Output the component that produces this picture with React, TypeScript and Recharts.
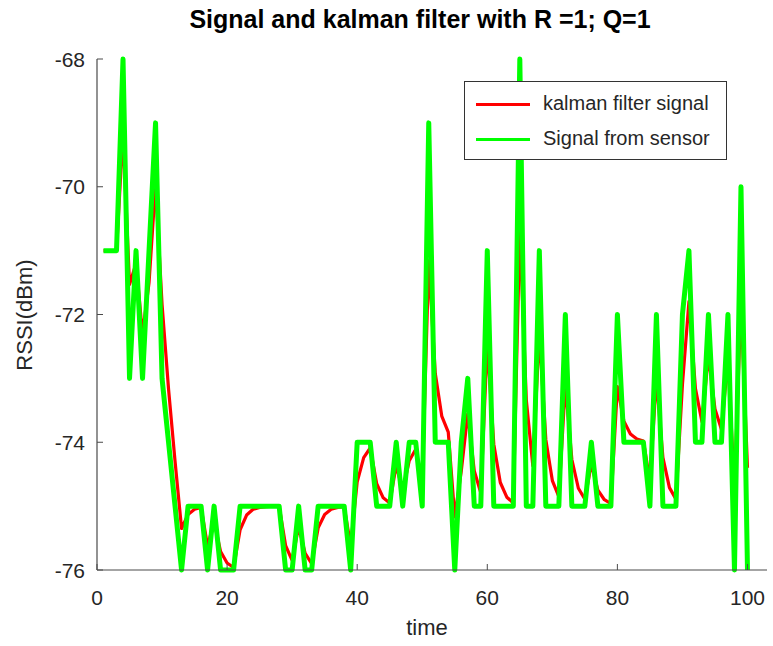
import React from 'react';
import { LineChart, Line, XAxis, YAxis } from 'recharts';

// time samples 1..100
const time: number[] = Array.from({ length: 100 }, (_, i) => i + 1);

// Signal from sensor (RSSI, dBm)
const sensorSignal: number[] = [
  -71, -71, -71, -68, -73, -71, -73, -71, -69, -73,
  -74, -75, -76, -75, -75, -75, -76, -75, -76, -76,
  -76, -75, -75, -75, -75, -75, -75, -75, -76, -76,
  -75, -76, -76, -75, -75, -75, -75, -75, -76, -74,
  -74, -74, -75, -75, -75, -74, -75, -74, -74, -75,
  -69, -74, -74, -74, -76, -74, -73, -75, -75, -71,
  -75, -75, -75, -75, -68, -75, -75, -71, -75, -75,
  -75, -72, -75, -75, -75, -74, -75, -75, -75, -72,
  -74, -74, -74, -74, -75, -72, -75, -75, -75, -72,
  -71, -74, -74, -72, -74, -74, -72, -76, -70, -76,
];

// kalman filter signal (RSSI, dBm)
const kalmanSignal: number[] = [
  -71.0, -71.0, -71.0, -69.15, -71.53, -71.2, -72.31, -71.5, -69.96, -71.84,
  -73.17, -74.3, -75.35, -75.13, -75.05, -75.02, -75.63, -75.24, -75.71, -75.89,
  -75.96, -75.37, -75.14, -75.05, -75.02, -75.01, -75.0, -75.0, -75.62, -75.85,
  -75.32, -75.74, -75.9, -75.34, -75.13, -75.05, -75.02, -75.01, -75.62, -74.62,
  -74.24, -74.09, -74.65, -74.87, -74.95, -74.36, -74.76, -74.29, -74.11, -74.66,
  -71.16, -72.92, -73.59, -73.84, -75.17, -74.45, -73.55, -74.45, -74.79, -72.45,
  -74.03, -74.63, -74.86, -74.95, -70.65, -73.34, -74.37, -72.29, -73.96, -74.6,
  -74.85, -73.09, -74.27, -74.72, -74.89, -74.34, -74.75, -74.9, -74.96, -73.13,
  -73.67, -73.87, -73.95, -73.98, -74.61, -73.0, -74.24, -74.71, -74.89, -73.1,
  -71.8, -73.16, -73.68, -72.64, -73.48, -73.8, -72.69, -74.74, -71.81, -74.4,
];

const xTicks: number[] = [0, 20, 40, 60, 80, 100];
const yTicks: number[] = [-76, -74, -72, -70, -68];

const seriesNames = { kalman: 'kalman filter signal', sensor: 'Signal from sensor' };
const titleText = 'Signal and kalman filter with R =1; Q=1';
const xLabelText = 'time';
const yLabelText = 'RSSI(dBm)';

const data = time.map((t, i) => ({ time: t, kalman: kalmanSignal[i], sensor: sensorSignal[i] }));

const FONT = '"Liberation Sans", Arial, Helvetica, sans-serif';
const AXIS = '#4a4a4a';
const TEXT = '#262626';
const RED = '#ff0000';
const GREEN = '#00ff00';

const XTick = (props: any) => {
  const { x, y, payload } = props;
  return (
    <g>
      <line x1={x} y1={y} x2={x} y2={y - 6} stroke={AXIS} strokeWidth={1} />
      <text x={x} y={y + 35} textAnchor="middle" fontSize={21} fill={TEXT} fontFamily={FONT}>
        {payload.value}
      </text>
    </g>
  );
};

const YTick = (props: any) => {
  const { x, y, payload } = props;
  return (
    <g>
      <line x1={x} y1={y} x2={x + 6} y2={y} stroke={AXIS} strokeWidth={1} />
      <text x={x - 12} y={y + 7.5} textAnchor="end" fontSize={21} fill={TEXT} fontFamily={FONT}>
        {payload.value}
      </text>
    </g>
  );
};

export default function App() {
  return (
    <div style={{ position: 'absolute', left: 0, top: 0, width: 773, height: 646, background: '#fff' }}>
      <LineChart
        width={773}
        height={646}
        data={data}
        margin={{ top: 59, right: 6, bottom: 0, left: 0 }}
      >
        <XAxis
          type="number"
          dataKey="time"
          domain={[0, 103]}
          ticks={xTicks}
          interval={0}
          height={76}
          tickSize={0}
          tickMargin={0}
          tick={<XTick />}
          tickLine={false}
          axisLine={{ stroke: AXIS, strokeWidth: 1.2 }}
        />
        <YAxis
          type="number"
          domain={[-76, -68]}
          ticks={yTicks}
          interval={0}
          width={97}
          tickSize={0}
          tickMargin={0}
          tick={<YTick />}
          tickLine={false}
          axisLine={{ stroke: AXIS, strokeWidth: 1.2 }}
        />
        <Line
          type="linear"
          dataKey="kalman"
          name={seriesNames.kalman}
          stroke={RED}
          strokeWidth={3.2}
          dot={false}
          isAnimationActive={false}
          strokeLinejoin="round"
        />
        <Line
          type="linear"
          dataKey="sensor"
          name={seriesNames.sensor}
          stroke={GREEN}
          strokeWidth={5}
          dot={false}
          isAnimationActive={false}
          strokeLinejoin="round"
        />
      </LineChart>

      <div
        style={{
          position: 'absolute',
          left: 420,
          top: 7,
          transform: 'translateX(-50%)',
          whiteSpace: 'nowrap',
          fontFamily: FONT,
          fontWeight: 'bold',
          fontSize: 25,
          lineHeight: '25px',
          color: '#000',
        }}
      >
        {titleText}
      </div>

      <div
        style={{
          position: 'absolute',
          left: 427,
          top: 617,
          transform: 'translateX(-50%)',
          whiteSpace: 'nowrap',
          fontFamily: FONT,
          fontSize: 22,
          lineHeight: '22px',
          color: TEXT,
        }}
      >
        {xLabelText}
      </div>

      <div
        style={{
          position: 'absolute',
          left: 25,
          top: 315,
          transform: 'translate(-50%, -50%) rotate(-90deg)',
          whiteSpace: 'nowrap',
          fontFamily: FONT,
          fontSize: 22,
          lineHeight: '22px',
          color: TEXT,
        }}
      >
        {yLabelText}
      </div>

      <div
        style={{
          position: 'absolute',
          left: 464,
          top: 81,
          width: 263,
          height: 79,
          boxSizing: 'border-box',
          border: '1px solid #333',
          background: '#fff',
          fontFamily: FONT,
          fontSize: 20,
          color: TEXT,
        }}
      >
        {[
          { name: seriesNames.kalman, color: RED, cy: 22 },
          { name: seriesNames.sensor, color: GREEN, cy: 57 },
        ].map((item) => (
          <div key={item.name}>
            <div
              style={{
                position: 'absolute',
                left: 11,
                top: item.cy - 1.5,
                width: 54,
                height: 3,
                background: item.color,
              }}
            />
            <div
              style={{
                position: 'absolute',
                left: 78,
                top: item.cy - 11,
                lineHeight: '20px',
                whiteSpace: 'nowrap',
              }}
            >
              {item.name}
            </div>
          </div>
        ))}
      </div>
    </div>
  );
}
